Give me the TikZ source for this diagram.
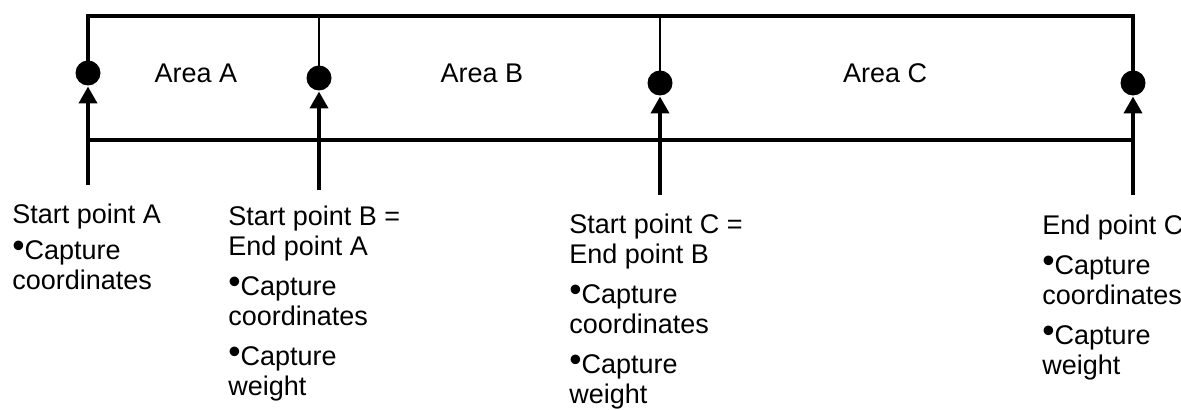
\documentclass[tikz,border=0pt]{standalone}
\usepackage{fontspec}
\setmainfont{Liberation Sans}
\usepackage{tikz}
\usetikzlibrary{arrows.meta}

\newcommand{\capbul}{\raisebox{1pt}{\scalebox{1.3}{\textbullet}}}

\tikzset{
  dot/.style={circle, fill=black, inner sep=0pt, minimum size=12.5pt},
  frame/.style={line width=2pt, line join=miter},
  divider/.style={line width=0.8pt},
  capture/.style={line width=2pt, -{Triangle[length=8.5pt,width=9pt]}, shorten >=0.3pt},
  areatext/.style={anchor=base},
  pointtext/.style={anchor=north west, align=left, inner sep=0pt}
}

\begin{document}
\begin{tikzpicture}[x=0.5pt, y=-0.5pt, font=\fontsize{13.5}{15}\selectfont]
        \useasboundingbox (0,0) rectangle (1181,410);

        % corners of the frame
        \coordinate (tl) at (88,16);
        \coordinate (tr) at (1133,16);
        \coordinate (bl) at (88,140);
        \coordinate (br) at (1133,140);

        % points on the path
        \node[dot] (dotA) at (88,73) {};
        \node[dot] (dotB) at (319,78) {};
        \node[dot] (dotC) at (660,83) {};
        \node[dot] (dotD) at (1133,83) {};

        \coordinate (footA) at (88,185);
        \coordinate (footB) at (319,190);
        \coordinate (footC) at (660,195);
        \coordinate (footD) at (1133,195);

        \draw[frame] (dotA.center) -- (tl) -- (tr) -- (dotD.center);
        \draw[frame] (bl) -- (br);
        \draw[divider] (dotB.center) -- (dotB |- tl);
        \draw[divider] (dotC.center) -- (dotC |- tl);

        \draw[capture] (footA) -- (dotA);
        \draw[capture] (footB) -- (dotB);
        \draw[capture] (footC) -- (dotC);
        \draw[capture] (footD) -- (dotD);

        \node[areatext] (areaA) at (196,83) {Area A};
        \node[areatext] (areaB) at (482,83) {Area B};
        \node[areatext] (areaC) at (885,83) {Area C};

        \node[pointtext] (startA) at (12,204) {Start point A\\[3pt]\capbul Capture\\coordinates};
        \node[pointtext] (startB) at (228,206) {Start point B =\\End point A\\[5pt]\capbul Capture\\coordinates\\[5pt]\capbul Capture\\weight};
        \node[pointtext] (startC) at (569,214) {Start point C =\\End point B\\[5pt]\capbul Capture\\coordinates\\[5pt]\capbul Capture\\weight};
        \node[pointtext] (endC) at (1042,215) {End point C\\[5pt]\capbul Capture\\coordinates\\[5pt]\capbul Capture\\weight};
\end{tikzpicture}
\end{document}
